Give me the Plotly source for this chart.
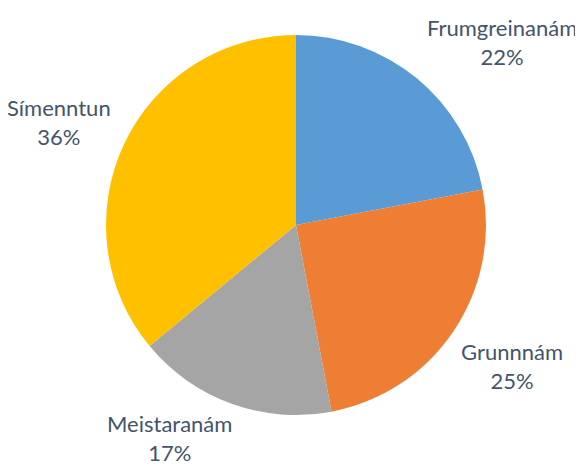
import plotly.graph_objects as go

categories = ["Frumgreinanám", "Grunnnám", "Meistaranám", "Símenntun"]
values = [22, 25, 17, 36]
colors = ["#5B9BD5", "#EF7E35", "#A5A5A5", "#FFC000"]

# label anchor positions in page pixels (center x, center y of the two-line label)
label_px = [(502, 42), (512, 366), (169, 438), (59, 122)]

OFF = 8  # page body margin offset
W, H = 583 - OFF, 466 - OFF
cx, cy, r = 296 - OFF, 225 - OFF, 190

fig = go.Figure(go.Pie(
    labels=categories,
    values=values,
    sort=False,
    direction="clockwise",
    rotation=0,
    marker=dict(colors=colors, line=dict(width=0)),
    textinfo="none",
    hoverinfo="label+percent",
    showlegend=False,
    domain=dict(x=[(cx - r) / W, (cx + r) / W], y=[(H - cy - r) / H, (H - cy + r) / H]),
))

total = sum(values)
for cat, val, (px, py) in zip(categories, values, label_px):
    fig.add_annotation(
        x=(px - OFF) / W, y=1 - (py - OFF) / H, xref="paper", yref="paper",
        text=f"{cat}<br>{round(100 * val / total)}%",
        showarrow=False, xanchor="center", yanchor="middle",
        font=dict(family="Lato, Open Sans, sans-serif", size=22, color="#44546A"),
    )

fig.update_layout(
    width=W, height=H,
    margin=dict(l=0, r=0, t=0, b=0),
    paper_bgcolor="white", plot_bgcolor="white",
)

fig.write_html("out.html")
